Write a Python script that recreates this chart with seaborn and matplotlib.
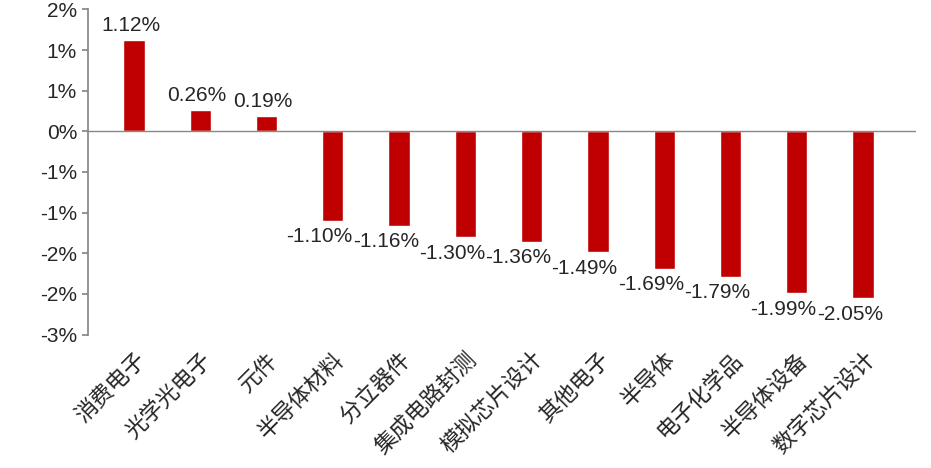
import matplotlib
matplotlib.use("Agg")
import matplotlib.pyplot as plt
import seaborn as sns
import pandas as pd

categories = ["消费电子","光学光电子","元件","半导体材料","分立器件","集成电路封测","模拟芯片设计","其他电子","半导体","电子化学品","半导体设备","数字芯片设计"]
values = [1.12,0.26,0.19,-1.10,-1.16,-1.30,-1.36,-1.49,-1.69,-1.79,-1.99,-2.05]
tick_vals = [1.5,1.0,0.5,0.0,-0.5,-1.0,-1.5,-2.0,-2.5]
tick_labels = ["2%","1%","1%","0%","-1%","-1%","-2%","-2%","-3%"]

sns.set_theme(style="white")
plt.rcParams['font.family'] = ['Liberation Sans','Noto Sans CJK SC']

df = pd.DataFrame({"cat":categories,"val":values})
fig = plt.figure(figsize=(9.31,4.68), dpi=100)
ax = fig.add_axes([0.094,0.285,0.89,0.695])
sns.barplot(data=df, x="cat", y="val", color="#C00000", saturation=1, width=0.32, ax=ax)
ax.set_ylim(-2.5,1.5)
ax.set_xlim(-0.7,11.8)
ax.set_yticks(tick_vals)
ax.set_yticklabels(tick_labels, fontsize=15)
ax.set_xlabel(""); ax.set_ylabel("")
ax.set_xticks(range(len(categories)))
ax.set_xticklabels(categories, rotation=45, ha="right", rotation_mode="anchor",
                   fontsize=16, family=['Noto Sans CJK SC'])
for s in ["top","right","bottom"]:
    ax.spines[s].set_visible(False)
ax.spines["left"].set_color("#888888")
ax.axhline(0, color="#888888", lw=1)
ax.tick_params(axis="y", left=True, length=4, color="#888888")
for i, v in enumerate(values):
    if v >= 0:
        ax.text(i - 0.05, v + 0.06, f"{v:.2f}%", ha="center", va="bottom", fontsize=15)
    else:
        ax.text(i - 0.2, v - 0.08, f"{v:.2f}%", ha="center", va="top", fontsize=15)
fig.savefig("out.png", dpi=100)
